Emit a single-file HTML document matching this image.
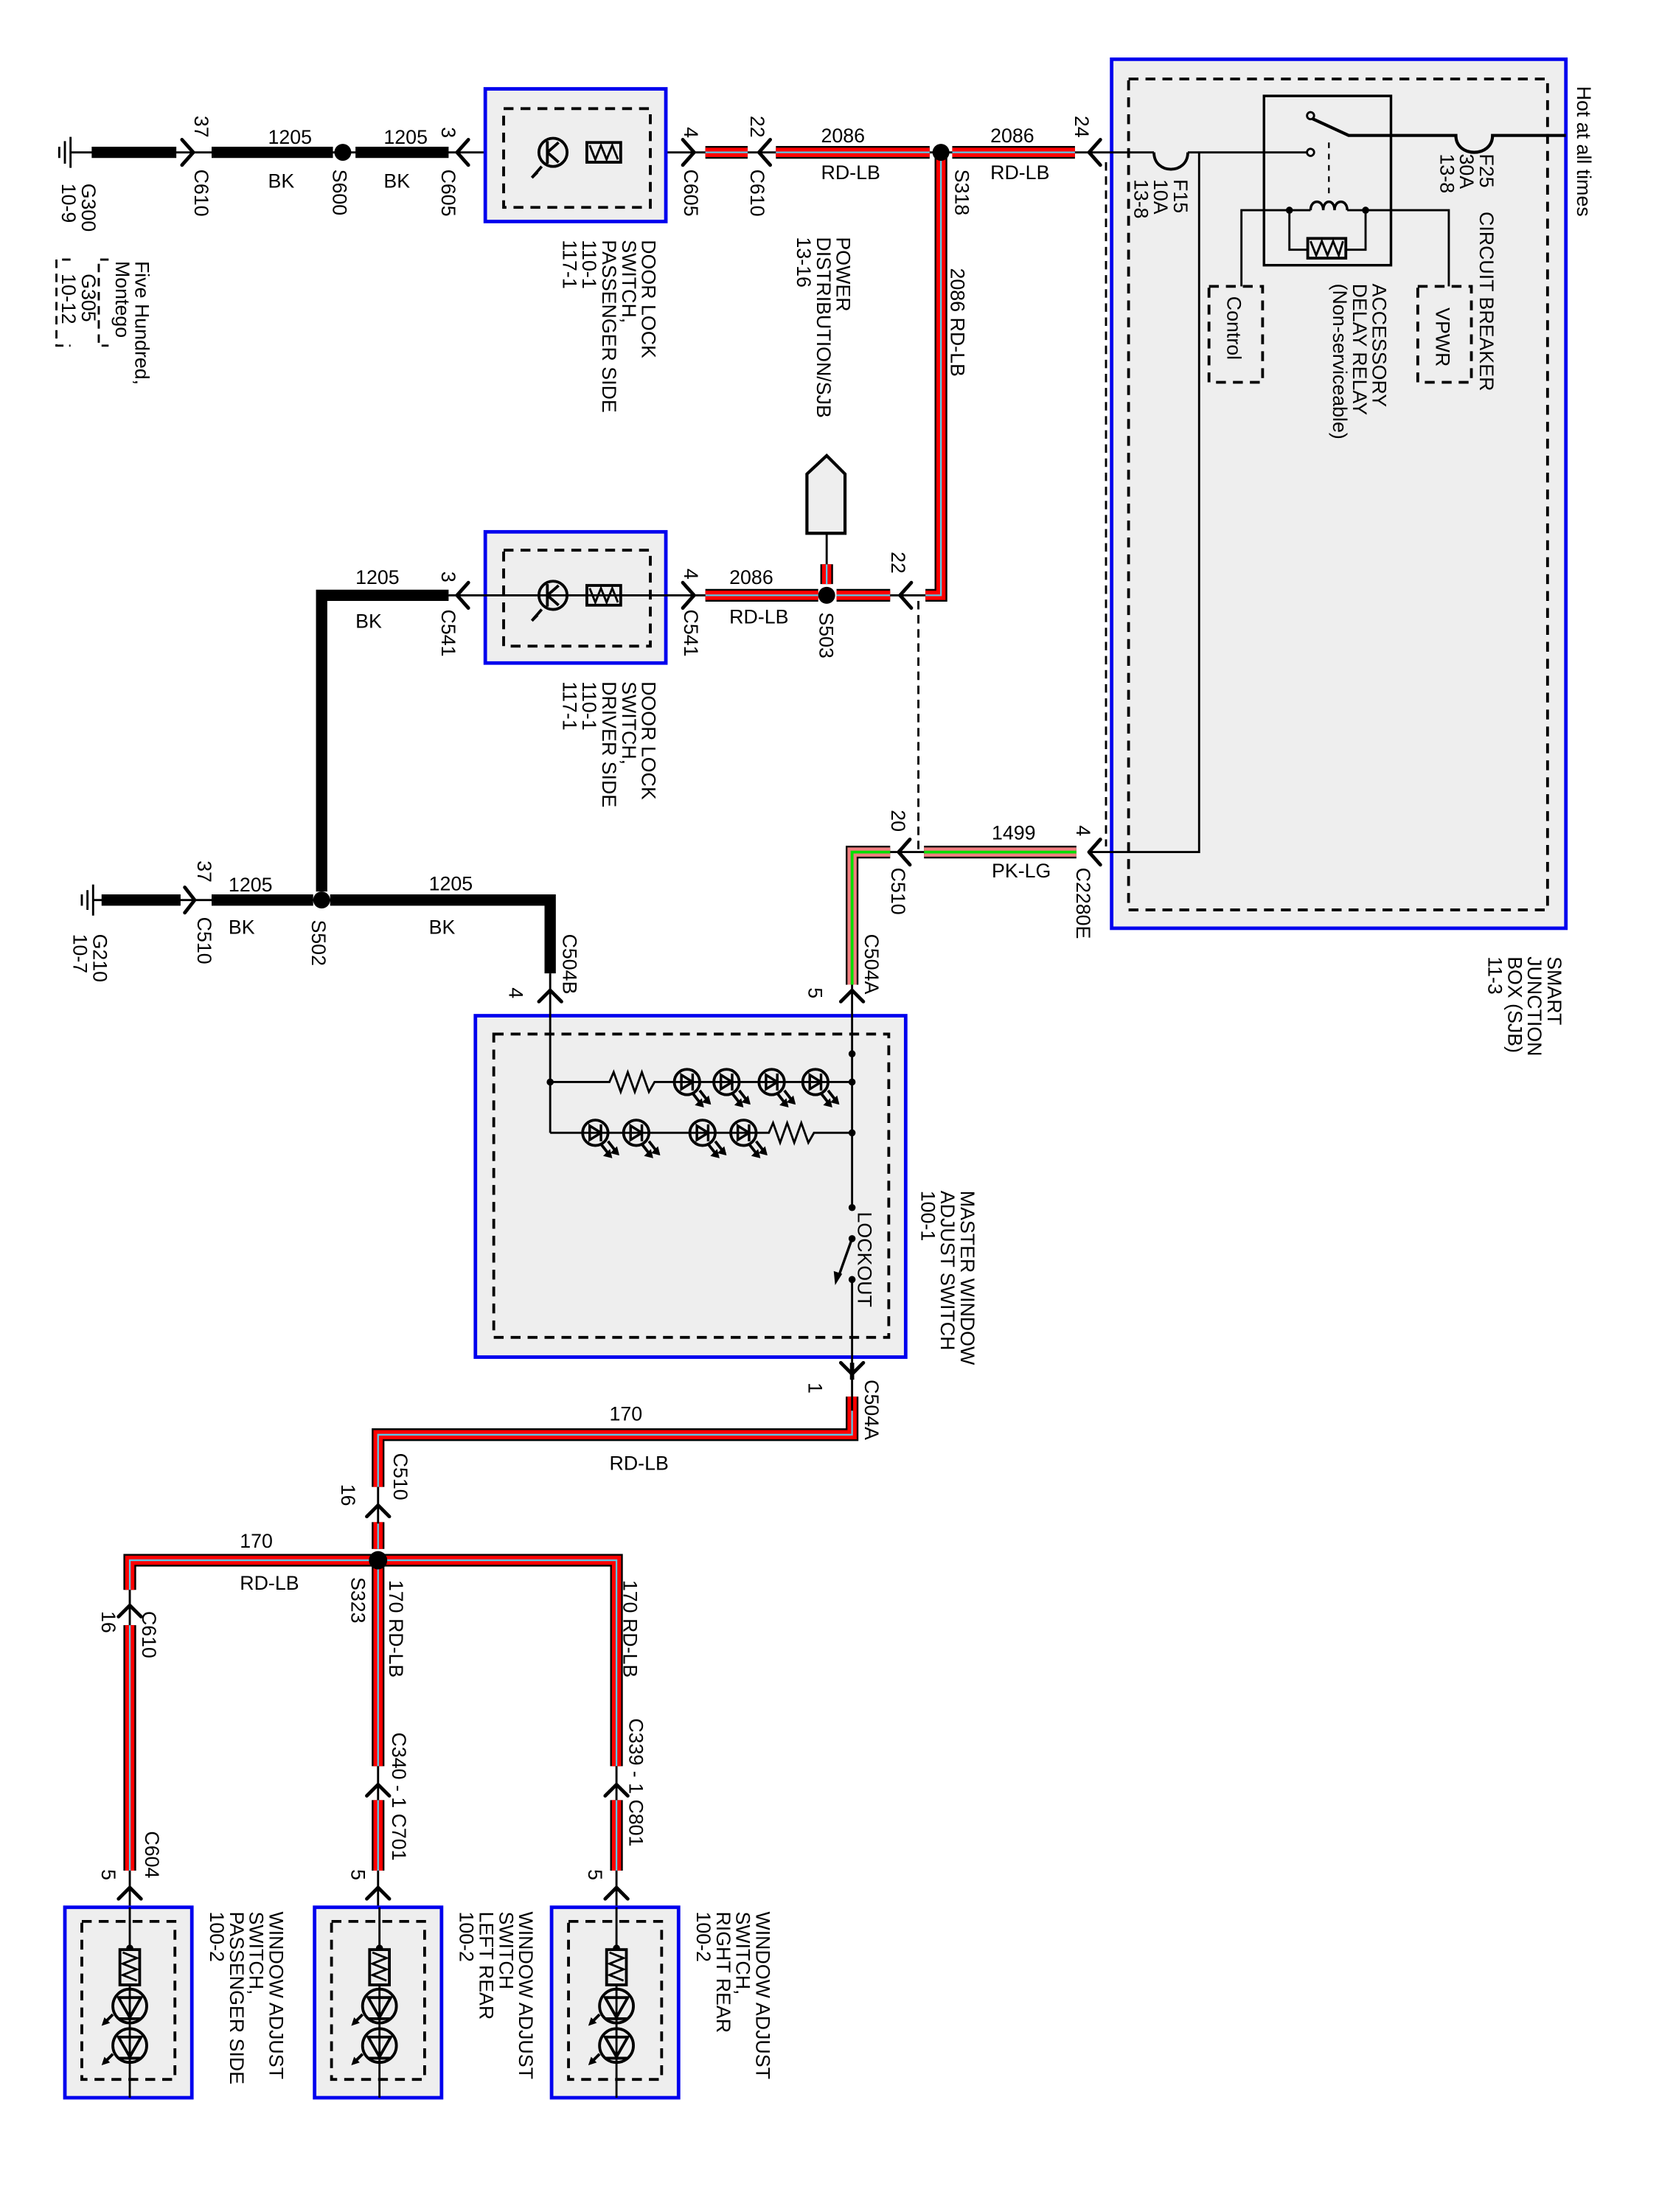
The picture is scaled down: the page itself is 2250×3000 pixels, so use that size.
<!DOCTYPE html>
<html><head><meta charset="utf-8"><style>
html,body{margin:0;padding:0;background:#fff;}
svg{display:block;}
text{font-family:"Liberation Sans",Arial,sans-serif;font-size:14px;fill:#000;}
.thin{stroke:#000;stroke-width:1.5;fill:none;}
.bk{stroke:#000;stroke-width:8;fill:none;}
.box{fill:#eee;stroke:#0000ee;stroke-width:2.5;}
.dash{fill:none;stroke:#000;stroke-width:2;stroke-dasharray:7,5;}
.dash1{fill:none;stroke:#000;stroke-width:1.5;stroke-dasharray:6,4;}
.ch{fill:none;stroke:#000;stroke-width:2.5;stroke-linecap:round;stroke-linejoin:round;}
</style></head><body>
<svg width="2250" height="3000" viewBox="0 0 1176 1568" preserveAspectRatio="none" xmlns="http://www.w3.org/2000/svg">
<defs>
<path id="w1" d="M500,108 H530"/>
<path id="w2" d="M550,108 H659"/>
<path id="w3" d="M675,108 H762"/>
<path id="w4" d="M656,422 H667 V108"/>
<path id="w5" d="M500,422 H580"/>
<path id="w6" d="M593,422 H631"/>
<path id="w7" d="M586,400 V414"/>
<path id="w8" d="M604,990 V1017 H268 V1054"/>
<path id="w9" d="M268,1079 V1098"/>
<path id="w10" d="M92,1127 V1106 H437 V1252"/>
<path id="w11" d="M268,1106 V1252"/>
<path id="w12" d="M92,1152 V1326"/>
<path id="w13" d="M268,1276 V1326"/>
<path id="w14" d="M437,1276 V1326"/>
<path id="p1" d="M763,604 H655"/>
<path id="p2" d="M631,604 H604 V698"/>
<g id="led">
<circle cx="0" cy="0" r="9" fill="none" stroke="#000" stroke-width="2"/>
<path d="M4,-6 V6 M4,0 L-4,-5 V5 Z" fill="none" stroke="#000" stroke-width="1.8"/>
<path d="M4,8 L11,17 M9,6 L16,15" stroke="#000" stroke-width="2"/>
<path d="M11,17 l-4,-1 l3,-3 Z M16,15 l-4,-1 l3,-3 Z" stroke="#000" stroke-width="1.5"/>
</g>
</defs>
<rect width="1176" height="1568" fill="#fff"/>

<!-- SJB box -->
<rect class="box" x="788" y="42" width="322" height="616"/>
<rect class="dash" x="800" y="56" width="297" height="589"/>
<line class="dash1" x1="784" y1="115" x2="784" y2="600"/>

<!-- top row thin lines -->
<path class="thin" d="M50,108 H818 M842,108 H929"/>
<path class="thin" d="M50,97 V119 M46,100 V116 M42,104 V112" style="stroke-width:1.5"/>
<path class="bk" d="M65,108 H125 M150,108 H236 M252,108 H318"/>
<circle cx="243" cy="108" r="6"/>
<path class="ch" d="M129,99 L137,108 L129,117"/>
<path class="ch" d="M332,99 L324,108 L332,117"/>
<path class="ch" d="M484,99 L492,108 L484,117"/>
<path class="ch" d="M546,99 L538,108 L546,117"/>
<path class="ch" d="M780,99 L772,108 L780,117"/>
<text x="190" y="102">1205</text><text x="190" y="133">BK</text>
<text x="272" y="102">1205</text><text x="272" y="133">BK</text>
<text x="582" y="101">2086</text><text x="582" y="127">RD-LB</text>
<text x="702" y="101">2086</text><text x="702" y="127">RD-LB</text>
<g>
<text transform="translate(138,82) rotate(90)">37</text>
<text transform="translate(138,120) rotate(90)">C610</text>
<text transform="translate(236,120) rotate(90)">S600</text>
<text transform="translate(313,90) rotate(90)">3</text>
<text transform="translate(313,120) rotate(90)">C605</text>
<text transform="translate(485,90) rotate(90)">4</text>
<text transform="translate(485,120) rotate(90)">C605</text>
<text transform="translate(532,82) rotate(90)">22</text>
<text transform="translate(532,120) rotate(90)">C610</text>
<text transform="translate(677,120) rotate(90)">S318</text>
<text transform="translate(762,82) rotate(90)">24</text>
<text transform="translate(58,130) rotate(90)">G300<tspan x="0" dy="14">10-9</tspan></text>
<text transform="translate(96,185) rotate(90)">Five Hundred,<tspan x="0" dy="14">Montego</tspan></text>
<text transform="translate(58,194) rotate(90)">G305<tspan x="0" dy="14">10-12</tspan></text>
<text transform="translate(455,170) rotate(90)">DOOR LOCK<tspan x="0" dy="14">SWITCH,</tspan><tspan x="0" dy="14">PASSENGER SIDE</tspan><tspan x="0" dy="14">110-1</tspan><tspan x="0" dy="14">117-1</tspan></text>
<text transform="translate(593,168) rotate(90)">POWER<tspan x="0" dy="14">DISTRIBUTION/SJB</tspan><tspan x="0" dy="14">13-16</tspan></text>
<text transform="translate(674,190) rotate(90)">2086   RD-LB</text>
</g>
<path class="dash1" d="M77,184 H70 V245 H77 M50,184 H40 V245 H50"/>

<!-- passenger door lock box -->
<rect class="box" x="344" y="63" width="128" height="94"/>
<rect class="dash" x="357" y="77" width="104" height="70"/>
<g id="dls">
<circle cx="392" cy="108" r="10" fill="none" stroke="#000" stroke-width="2"/>
<path class="thin" d="M388,100 V116 M388,108 L396,101 M388,108 L396,115" style="stroke-width:2"/>
<path class="thin" d="M384,118 L377,126 M381,122 l-4,4" style="stroke-width:2"/>
<rect x="416" y="101" width="24" height="14" fill="none" stroke="#000" stroke-width="2"/>
<path class="thin" d="M418,103 L422,113 L426,103 L430,113 L434,103 L438,113" style="stroke-width:1.5"/>
</g>

<!-- red wires RD-LB -->
<g stroke-linejoin="miter" fill="none">
<g stroke="#000" stroke-width="9"><use href="#w1"/><use href="#w2"/><use href="#w3"/><use href="#w4"/><use href="#w5"/><use href="#w6"/><use href="#w7"/><use href="#w8"/><use href="#w9"/><use href="#w10"/><use href="#w11"/><use href="#w12"/><use href="#w13"/><use href="#w14"/></g>
<g stroke="#ff0000" stroke-width="6.5"><use href="#w1"/><use href="#w2"/><use href="#w3"/><use href="#w4"/><use href="#w5"/><use href="#w6"/><use href="#w7"/><use href="#w8"/><use href="#w9"/><use href="#w10"/><use href="#w11"/><use href="#w12"/><use href="#w13"/><use href="#w14"/></g>
<g stroke="#5ac8e8" stroke-width="1.2"><use href="#w1"/><use href="#w2"/><use href="#w3"/><use href="#w4"/><use href="#w5"/><use href="#w6"/><use href="#w7"/><use href="#w8"/><use href="#w9"/><use href="#w10"/><use href="#w11"/><use href="#w12"/><use href="#w13"/><use href="#w14"/></g>
<g stroke="#000" stroke-width="9"><use href="#p1"/><use href="#p2"/></g>
<g stroke="#f08080" stroke-width="6.5"><use href="#p1"/><use href="#p2"/></g>
<g stroke="#00e000" stroke-width="2"><use href="#p1"/><use href="#p2"/></g>
</g>
<circle cx="667" cy="108" r="6"/>

<!-- SJB internals -->
<path d="M818,108 C818,124 842,124 842,108" style="stroke:#000;stroke-width:2;fill:none"/>
<path class="thin" d="M850,108 V604 H772"/>
<rect x="896" y="68" width="90" height="120" fill="none" stroke="#000" stroke-width="1.8"/>
<circle cx="929" cy="82" r="2.5" fill="none" stroke="#000" stroke-width="1.5"/>
<circle cx="929" cy="108" r="2.5" fill="#fff" stroke="#000" stroke-width="1.5"/>
<path d="M930,84 L956,96 H1032 C1032,112 1058,112 1058,96 H1110" fill="none" stroke="#000" stroke-width="2.2"/>
<line x1="942" y1="101" x2="942" y2="138" class="dash1" style="stroke-width:1.2;stroke-dasharray:4,4"/>
<path class="thin" d="M880,203 V149 H929 M955,149 H1027 V203"/>
<path d="M929,149 c0,-8 9,-8 9,0 c0,-8 8,-8 8,0 c0,-8 9,-8 9,0" fill="none" stroke="#000" stroke-width="1.8"/>
<circle cx="914" cy="149" r="2.5"/><circle cx="968" cy="149" r="2.5"/>
<path class="thin" d="M914,149 V177 H927 M954,177 H968 V149"/>
<rect x="927" y="169" width="27" height="14" fill="none" stroke="#000" stroke-width="2"/>
<path class="thin" d="M929,171 L933,181 L937,171 L941,181 L945,171 L949,181 L952,171"/>
<rect class="dash" x="857" y="203" width="38" height="68"/>
<rect class="dash" x="1005" y="203" width="38" height="68"/>
<text transform="translate(870,210) rotate(90)">Control</text>
<text transform="translate(1018,218) rotate(90)">VPWR</text>
<text transform="translate(973,201) rotate(90)">ACCESSORY<tspan x="0" dy="14">DELAY RELAY</tspan><tspan x="0" dy="14">(Non-serviceable)</tspan></text>
<text transform="translate(1049,150) rotate(90)">CIRCUIT BREAKER</text>
<text transform="translate(1049,109) rotate(90)">F25<tspan x="0" dy="14">30A</tspan><tspan x="0" dy="14">13-8</tspan></text>
<text transform="translate(832,127) rotate(90)">F15<tspan x="0" dy="14">10A</tspan><tspan x="0" dy="14">13-8</tspan></text>
<text transform="translate(1118,61) rotate(90)">Hot at all times</text>
<text transform="translate(1097,678) rotate(90)">SMART<tspan x="0" dy="14">JUNCTION</tspan><tspan x="0" dy="14">BOX (SJB)</tspan><tspan x="0" dy="14">11-3</tspan></text>

<!-- middle: driver door lock row -->
<rect class="box" x="344" y="377" width="128" height="93"/>
<rect class="dash" x="357" y="390" width="104" height="68"/>
<use href="#dls" y="314"/>
<path class="thin" d="M318,422 H500 M631,422 H656"/>
<path class="bk" d="M318,422 H228 V632"/>
<path class="ch" d="M332,413 L324,422 L332,431"/>
<path class="ch" d="M484,413 L492,422 L484,431"/>
<path class="ch" d="M646,413 L638,422 L646,431"/>
<circle cx="586" cy="422" r="6"/>
<path class="thin" d="M586,378 V400"/>
<path d="M572,378 V336 L586,323 L599,336 V378 Z" fill="#eee" stroke="#000" stroke-width="2.2"/>
<line class="dash1" x1="651" y1="426" x2="651" y2="604"/>
<text x="252" y="414">1205</text><text x="252" y="445">BK</text>
<text x="517" y="414">2086</text><text x="517" y="442">RD-LB</text>
<text transform="translate(313,405) rotate(90)">3</text>
<text transform="translate(313,432) rotate(90)">C541</text>
<text transform="translate(485,403) rotate(90)">4</text>
<text transform="translate(485,432) rotate(90)">C541</text>
<text transform="translate(581,434) rotate(90)">S503</text>
<text transform="translate(632,391) rotate(90)">22</text>
<text transform="translate(455,483) rotate(90)">DOOR LOCK<tspan x="0" dy="14">SWITCH,</tspan><tspan x="0" dy="14">DRIVER SIDE</tspan><tspan x="0" dy="14">110-1</tspan><tspan x="0" dy="14">117-1</tspan></text>

<!-- PK-LG row -->
<path class="thin" d="M631,604 H655"/>
<path class="ch" d="M645,595 L637,604 L645,613"/>
<path class="ch" d="M780,595 L772,604 L780,613"/>
<text x="703" y="595">1499</text><text x="703" y="622">PK-LG</text>
<text transform="translate(632,574) rotate(90)">20</text>
<text transform="translate(632,615) rotate(90)">C510</text>
<text transform="translate(763,585) rotate(90)">4</text>
<text transform="translate(763,615) rotate(90)">C2280E</text>

<!-- G210 row -->
<path class="thin" d="M66,638 H390"/>
<path class="thin" d="M66,627 V649 M62,631 V645 M58,634 V642"/>
<path class="bk" d="M72,638 H128 M150,638 H222 M234,638 H390 V690"/>
<circle cx="228" cy="638" r="6"/>
<path class="ch" d="M131,629 L138,638 L131,647"/>
<text x="162" y="632">1205</text><text x="162" y="662">BK</text>
<text x="304" y="631">1205</text><text x="304" y="662">BK</text>
<text transform="translate(140,610) rotate(90)">37</text>
<text transform="translate(140,650) rotate(90)">C510</text>
<text transform="translate(221,652) rotate(90)">S502</text>
<text transform="translate(66,662) rotate(90)">G210<tspan x="0" dy="14">10-7</tspan></text>
<text transform="translate(399,662) rotate(90)">C504B</text>
<text transform="translate(361,700) rotate(90)">4</text>
<text transform="translate(613,662) rotate(90)">C504A</text>
<text transform="translate(573,700) rotate(90)">5</text>

<!-- master window switch -->
<rect class="box" x="337" y="720" width="305" height="242"/>
<rect class="dash" x="350" y="733" width="280" height="215"/>
<path class="thin" d="M390,690 V803 M604,698 V856 M604,907 V1000"/>
<path class="ch" d="M382,710 L390,702 L398,710"/>
<path class="ch" d="M596,710 L604,702 L612,710"/>
<path class="thin" d="M390,767 H432 L435,760 L440,774 L445,760 L450,774 L455,760 L460,774 L464,767 H604"/>
<path class="thin" d="M390,803 H545 L548,796 L553,810 L558,796 L563,810 L568,796 L573,810 L577,803 H604"/>
<use href="#led" x="487" y="767"/><use href="#led" x="515" y="767"/><use href="#led" x="547" y="767"/><use href="#led" x="578" y="767"/>
<use href="#led" x="422" y="803"/><use href="#led" x="451" y="803"/><use href="#led" x="498" y="803"/><use href="#led" x="527" y="803"/>
<circle cx="390" cy="767" r="2.5"/><circle cx="604" cy="767" r="2.5"/><circle cx="604" cy="803" r="2.5"/><circle cx="604" cy="747" r="2.5"/>
<circle cx="604" cy="856" r="2.5"/><circle cx="604" cy="878" r="2.5"/><circle cx="604" cy="907" r="2.5"/>
<path d="M604,878 L594,906" stroke="#000" stroke-width="1.8"/>
<path d="M592,911 L591,901 L597,903 Z"/>
<text transform="translate(608,859) rotate(90)">LOCKOUT</text>
<text transform="translate(681,844) rotate(90)">MASTER WINDOW<tspan x="0" dy="14">ADJUST SWITCH</tspan><tspan x="0" dy="14">100-1</tspan></text>
<path class="ch" d="M596,966 L604,974 L612,966"/>
<path class="thin" d="M604,966 V978" style="stroke-width:3"/>
<text transform="translate(613,978) rotate(90)">C504A</text>
<text transform="translate(573,980) rotate(90)">1</text>

<!-- bottom wiring -->
<text x="432" y="1007">170</text><text x="432" y="1042">RD-LB</text>
<text x="170" y="1097">170</text><text x="170" y="1127">RD-LB</text>
<path class="thin" d="M268,1054 V1080 M92,1127 V1152 M268,1252 V1276 M437,1252 V1276 M92,1326 V1487 M268,1326 V1487 M437,1326 V1487"/>
<path class="ch" d="M260,1075 L268,1067 L276,1075"/>
<path class="ch" d="M84,1146 L92,1138 L100,1146"/>
<path class="ch" d="M260,1273 L268,1265 L276,1273"/>
<path class="ch" d="M429,1273 L437,1265 L445,1273"/>
<path class="ch" d="M84,1346 L92,1338 L100,1346"/>
<path class="ch" d="M260,1346 L268,1338 L276,1346"/>
<path class="ch" d="M429,1346 L437,1338 L445,1346"/>
<circle cx="268" cy="1106" r="6.5"/>
<text transform="translate(279,1030) rotate(90)">C510</text>
<text transform="translate(242,1052) rotate(90)">16</text>
<text transform="translate(249,1118) rotate(90)">S323</text>
<text transform="translate(101,1142) rotate(90)">C610</text>
<text transform="translate(72,1142) rotate(90)">16</text>
<text transform="translate(276,1120) rotate(90)">170  RD-LB</text>
<text transform="translate(442,1120) rotate(90)">170  RD-LB</text>
<text transform="translate(278,1228) rotate(90)">C340 - 1  C701</text>
<text transform="translate(446,1218) rotate(90)">C339 - 1  C801</text>
<text transform="translate(103,1298) rotate(90)">C604</text>
<text transform="translate(72,1325) rotate(90)">5</text>
<text transform="translate(249,1325) rotate(90)">5</text>
<text transform="translate(417,1325) rotate(90)">5</text>

<!-- window adjust switches -->
<g id="was">
<rect class="box" x="46" y="1352" width="90" height="135"/>
<rect class="dash" x="58" y="1362" width="66" height="112"/>
<line x1="92" y1="1352" x2="92" y2="1487" stroke="#000" stroke-width="1.5"/>
<circle cx="92" cy="1381" r="2.5"/>
<rect x="85" y="1382" width="14" height="25" fill="#eee" stroke="#000" stroke-width="2"/>
<path d="M87,1384 L97,1388 L87,1392 L97,1396 L87,1400 L97,1404" fill="none" stroke="#000" stroke-width="1.5"/>
<circle cx="92" cy="1422" r="12" fill="none" stroke="#000" stroke-width="2"/>
<circle cx="92" cy="1450" r="12" fill="none" stroke="#000" stroke-width="2"/>
<path d="M84,1416 H100 L92,1430 Z M84,1444 H100 L92,1458 Z M84,1431 H100 M84,1459 H100" fill="none" stroke="#000" stroke-width="2"/>
<path d="M80,1428 L74,1434 M80,1456 L74,1462" stroke="#000" stroke-width="2"/>
<path d="M72,1436 l2,-6 l4,4 Z M72,1464 l2,-6 l4,4 Z"/>
</g>
<use href="#was" x="177"/>
<use href="#was" x="345"/>
<text transform="translate(191,1355) rotate(90)">WINDOW ADJUST<tspan x="0" dy="14">SWITCH,</tspan><tspan x="0" dy="14">PASSENGER SIDE</tspan><tspan x="0" dy="14">100-2</tspan></text>
<text transform="translate(368,1355) rotate(90)">WINDOW ADJUST<tspan x="0" dy="14">SWITCH</tspan><tspan x="0" dy="14">LEFT REAR</tspan><tspan x="0" dy="14">100-2</tspan></text>
<text transform="translate(536,1355) rotate(90)">WINDOW ADJUST<tspan x="0" dy="14">SWITCH,</tspan><tspan x="0" dy="14">RIGHT REAR</tspan><tspan x="0" dy="14">100-2</tspan></text>
</svg>
</body></html>
